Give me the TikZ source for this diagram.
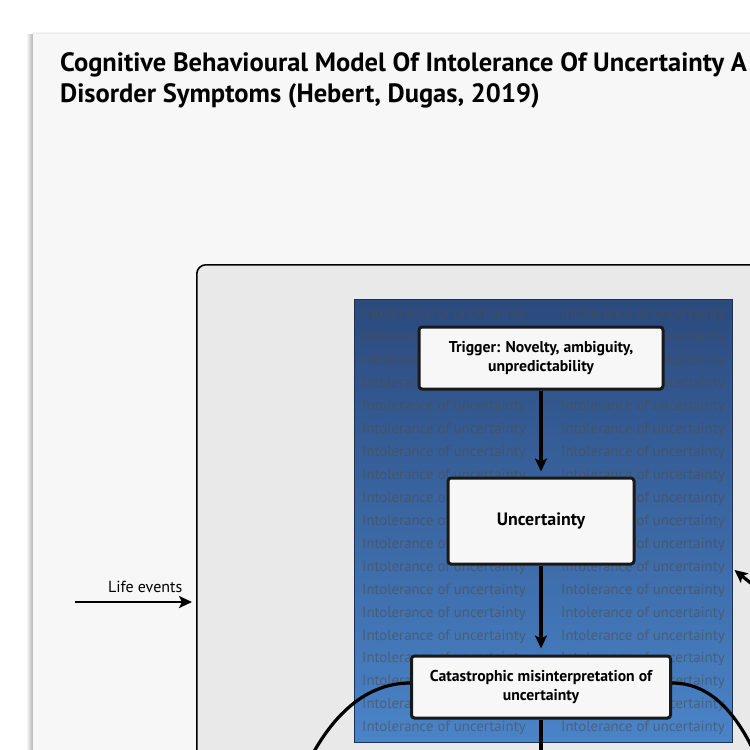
\documentclass[tikz,border=0pt]{standalone}
\usepackage{fontspec}
\setmainfont{PT Sans}
\usetikzlibrary{positioning,arrows.meta}

\definecolor{pagegray}{HTML}{F7F7F7}
\definecolor{panelgray}{HTML}{E9E9E9}
\definecolor{iutop}{HTML}{2B4A7E}
\definecolor{iumid}{HTML}{31568F}
\definecolor{iubottom}{HTML}{4A84C8}
\definecolor{iuedge}{HTML}{1E3252}
\definecolor{iutext}{HTML}{4D4D4D}

\begin{document}
\begin{tikzpicture}[x=1pt,y=-1pt,
squarednode/.style={rectangle, rounded corners=3pt, draw=black!90, fill=white!97!black, line width=3pt, align=center, inner sep=0pt, font=\fontsize{15.7}{19}\selectfont\bfseries},
flow/.style={line width=3.2pt, -{Stealth[length=13pt,width=12pt,inset=3pt]}},
loopline/.style={line width=3.2pt},
bgtext/.style={anchor=west, inner sep=0pt, text=iutext, text opacity=0.6, font=\fontsize{14.8}{15}\selectfont},
]
\useasboundingbox (0,0) rectangle (750,750);
\clip (0,0) rectangle (750,750);

%Page
\fill[white] (0,0) rectangle (750,750);
\fill[left color=white, right color=black!30] (26,34) rectangle (33,760);
\fill[top color=white, bottom color=black!12] (33,31) rectangle (760,34);
\fill[pagegray] (33,34) rectangle (760,760);

%Title
\node[anchor=north west, inner sep=0pt, align=left, font=\fontsize{26.5}{31}\selectfont\bfseries] (title) at (60,52)
  {Cognitive Behavioural Model Of Intolerance Of Uncertainty A\\Disorder Symptoms (Hebert, Dugas, 2019)};

%Panels
\node[draw, fill=panelgray, rounded corners=9pt, line width=1.6pt, minimum width=700pt, minimum height=600pt, anchor=north west] (cycle) at (196,264) {};
\node[draw=iuedge, line width=1.3pt, top color=iutop, middle color=iumid, bottom color=iubottom, minimum width=378pt, minimum height=443pt, inner sep=0pt, anchor=north west] (iu) at (354,299) {};

\foreach \row in {0,...,18}{
  \node[bgtext] (iul\row) at (362,315+22.95*\row) {Intolerance of uncertainty};
  \node[bgtext] (iur\row) at (561,315+22.95*\row) {Intolerance of uncertainty};
}

%Nodes
\node[squarednode, minimum width=244pt, minimum height=62pt] (trigger) at (541,358) {Trigger: Novelty, ambiguity,\\unpredictability};
\node[squarednode, minimum width=186pt, minimum height=86pt, font=\fontsize{17.9}{20}\selectfont\bfseries] (unc) [below=86pt of trigger] {Uncertainty};
\node[squarednode, minimum width=259pt, minimum height=62pt] (cat) [below=89pt of unc] {Catastrophic misinterpretation of\\uncertainty};

\coordinate (life) at (75,602);
\coordinate (down) at (541,790);
\coordinate (leftend) at (300,780);
\coordinate (rightend) at (760,765);
\coordinate (back) at (768,597);

%Lines
\draw[flow, shorten >=5pt] (trigger.south) -- (unc.north);
\draw[flow, shorten >=6pt] (unc.south) -- (cat.north);
\draw[loopline] (cat.south) -- (down);
\draw[loopline] ([yshift=4pt]cat.west) .. controls (370,683) and (330,710) .. (leftend);
\draw[loopline] ([yshift=4pt]cat.east) .. controls (705,683) and (735,705) .. (rightend);
\draw[flow, shorten >=1.5pt] (back) -- (iu.east |- 0,569);
\draw[flow, line width=2.8pt, shorten >=4pt] (life) -- (cycle.west |- life)
  node[pos=0.58, above=5pt, font=\fontsize{16}{18}\selectfont] (lifelabel) {Life events};
\end{tikzpicture}
\end{document}
